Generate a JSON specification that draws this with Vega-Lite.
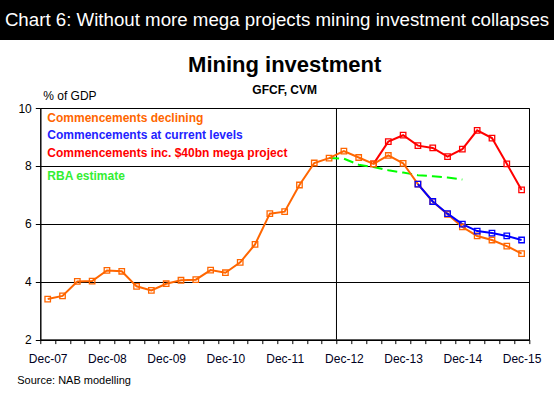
{
  "$schema": "https://vega.github.io/schema/vega-lite/v6.json",
  "padding": 0,
  "spacing": 13,
  "background": "white",
  "config": {"font": "Liberation Sans"},
  "datasets": {
    "scen": [
      {"q": "Jun-13", "series": "Commencements inc. $40bn mega project", "v": 8.07},
      {"q": "Sep-13", "series": "Commencements inc. $40bn mega project", "v": 8.84},
      {"q": "Dec-13", "series": "Commencements inc. $40bn mega project", "v": 9.06},
      {"q": "Mar-14", "series": "Commencements inc. $40bn mega project", "v": 8.70},
      {"q": "Jun-14", "series": "Commencements inc. $40bn mega project", "v": 8.62},
      {"q": "Sep-14", "series": "Commencements inc. $40bn mega project", "v": 8.32},
      {"q": "Dec-14", "series": "Commencements inc. $40bn mega project", "v": 8.58},
      {"q": "Mar-15", "series": "Commencements inc. $40bn mega project", "v": 9.23},
      {"q": "Jun-15", "series": "Commencements inc. $40bn mega project", "v": 8.96},
      {"q": "Sep-15", "series": "Commencements inc. $40bn mega project", "v": 8.07},
      {"q": "Dec-15", "series": "Commencements inc. $40bn mega project", "v": 7.17},
      {"q": "Dec-07", "series": "Commencements declining", "v": 3.40},
      {"q": "Mar-08", "series": "Commencements declining", "v": 3.51},
      {"q": "Jun-08", "series": "Commencements declining", "v": 4.01},
      {"q": "Sep-08", "series": "Commencements declining", "v": 4.02},
      {"q": "Dec-08", "series": "Commencements declining", "v": 4.39},
      {"q": "Mar-09", "series": "Commencements declining", "v": 4.36},
      {"q": "Jun-09", "series": "Commencements declining", "v": 3.84},
      {"q": "Sep-09", "series": "Commencements declining", "v": 3.70},
      {"q": "Dec-09", "series": "Commencements declining", "v": 3.93},
      {"q": "Mar-10", "series": "Commencements declining", "v": 4.05},
      {"q": "Jun-10", "series": "Commencements declining", "v": 4.07},
      {"q": "Sep-10", "series": "Commencements declining", "v": 4.40},
      {"q": "Dec-10", "series": "Commencements declining", "v": 4.31},
      {"q": "Mar-11", "series": "Commencements declining", "v": 4.67},
      {"q": "Jun-11", "series": "Commencements declining", "v": 5.29},
      {"q": "Sep-11", "series": "Commencements declining", "v": 6.35},
      {"q": "Dec-11", "series": "Commencements declining", "v": 6.42},
      {"q": "Mar-12", "series": "Commencements declining", "v": 7.34},
      {"q": "Jun-12", "series": "Commencements declining", "v": 8.10},
      {"q": "Sep-12", "series": "Commencements declining", "v": 8.27},
      {"q": "Dec-12", "series": "Commencements declining", "v": 8.51},
      {"q": "Mar-13", "series": "Commencements declining", "v": 8.29},
      {"q": "Jun-13", "series": "Commencements declining", "v": 8.07},
      {"q": "Sep-13", "series": "Commencements declining", "v": 8.36},
      {"q": "Dec-13", "series": "Commencements declining", "v": 8.09},
      {"q": "Mar-14", "series": "Commencements declining", "v": 7.37},
      {"q": "Jun-14", "series": "Commencements declining", "v": 6.77},
      {"q": "Sep-14", "series": "Commencements declining", "v": 6.33},
      {"q": "Dec-14", "series": "Commencements declining", "v": 5.89},
      {"q": "Mar-15", "series": "Commencements declining", "v": 5.58},
      {"q": "Jun-15", "series": "Commencements declining", "v": 5.44},
      {"q": "Sep-15", "series": "Commencements declining", "v": 5.23},
      {"q": "Dec-15", "series": "Commencements declining", "v": 4.97},
      {"q": "Mar-14", "series": "Commencements at current levels", "v": 7.37},
      {"q": "Jun-14", "series": "Commencements at current levels", "v": 6.77},
      {"q": "Sep-14", "series": "Commencements at current levels", "v": 6.35},
      {"q": "Dec-14", "series": "Commencements at current levels", "v": 5.99},
      {"q": "Mar-15", "series": "Commencements at current levels", "v": 5.75},
      {"q": "Jun-15", "series": "Commencements at current levels", "v": 5.68},
      {"q": "Sep-15", "series": "Commencements at current levels", "v": 5.58},
      {"q": "Dec-15", "series": "Commencements at current levels", "v": 5.44}
    ],
    "rba": [
      {"q": "Sep-12", "series": "RBA estimate", "v": 8.27},
      {"q": "Dec-12", "series": "RBA estimate", "v": 8.25},
      {"q": "Mar-13", "series": "RBA estimate", "v": 8.04},
      {"q": "Jun-13", "series": "RBA estimate", "v": 7.96},
      {"q": "Sep-13", "series": "RBA estimate", "v": 7.85},
      {"q": "Dec-13", "series": "RBA estimate", "v": 7.77},
      {"q": "Mar-14", "series": "RBA estimate", "v": 7.68},
      {"q": "Jun-14", "series": "RBA estimate", "v": 7.64},
      {"q": "Sep-14", "series": "RBA estimate", "v": 7.60},
      {"q": "Dec-14", "series": "RBA estimate", "v": 7.53}
    ],
    "split": [{"q": "Dec-12"}],
    "banner": [{"t": "Chart 6: Without more mega projects mining investment collapses"}],
    "none": []
  },
  "vconcat": [
    {
      "width": 554,
      "height": 40,
      "view": {"fill": "black", "stroke": null},
      "data": {"name": "banner"},
      "mark": {"type": "text", "color": "white", "fontSize": 18.7, "font": "Liberation Sans"},
      "encoding": {"text": {"field": "t", "type": "nominal"}}
    },
    {
      "spacing": 14.3,
      "hconcat": [
        {
          "width": 1,
          "height": 1,
          "view": {"stroke": null},
          "data": {"name": "none"},
          "mark": "point"
        },
        {
          "width": 488.7,
          "height": 231.6,
          "view": {"stroke": "black", "strokeWidth": 1},
          "title": {
            "text": "Mining investment",
            "subtitle": "GFCF, CVM",
            "fontSize": 22,
            "fontWeight": "bold",
            "color": "black",
            "subtitleFontSize": 12,
            "subtitleFontWeight": "bold",
            "subtitleColor": "black",
            "subtitlePadding": 7.5,
            "anchor": "middle",
            "offset": -7.8
          },
          "encoding": {
            "x": {
              "field": "q",
              "type": "ordinal",
              "sort": null,
              "scale": {
                "type": "band",
                "paddingInner": 0,
                "paddingOuter": 0,
                "domain": ["Dec-07","Mar-08","Jun-08","Sep-08","Dec-08","Mar-09","Jun-09","Sep-09","Dec-09","Mar-10","Jun-10","Sep-10","Dec-10","Mar-11","Jun-11","Sep-11","Dec-11","Mar-12","Jun-12","Sep-12","Dec-12","Mar-13","Jun-13","Sep-13","Dec-13","Mar-14","Jun-14","Sep-14","Dec-14","Mar-15","Jun-15","Sep-15","Dec-15"]
              },
              "axis": {
                "title": "Source: NAB modelling",
                "titleFontSize": 11,
                "titleFontWeight": "normal",
                "titleColor": "black",
                "titleAlign": "left",
                "titleAnchor": "start",
                "titleBaseline": "alphabetic",
                "titleX": -23.6,
                "titleY": 43.4,
                "labelExpr": "indexof(datum.label, 'Dec') == 0 ? datum.label : ''",
                "labelAngle": 0,
                "labelOverlap": false,
                "labelFontSize": 12,
                "labelColor": "#000022",
                "labelPadding": 10,
                "tickBand": "extent",
                "tickSize": 4,
                "tickColor": "black",
                "domainColor": "black",
                "grid": false
              }
            },
            "y": {
              "field": "v",
              "type": "quantitative",
              "scale": {"domain": [2, 10], "nice": false, "zero": false},
              "axis": {
                "values": [2, 4, 6, 8, 10],
                "title": "% of GDP",
                "titleFontSize": 12,
                "titleFontWeight": "normal",
                "titleColor": "black",
                "titleAngle": 0,
                "titleAlign": "left",
                "titleBaseline": "alphabetic",
                "titleX": 2.4,
                "titleY": -9,
                "labelFontSize": 12,
                "labelColor": "black",
                "labelPadding": 4,
                "tickSize": 5,
                "tickColor": "black",
                "domainColor": "black",
                "grid": true,
                "gridColor": "black",
                "gridOpacity": 1,
                "gridWidth": 1
              }
            }
          },
          "layer": [
            {
              "data": {"name": "split"},
              "mark": {"type": "rule", "color": "black", "strokeWidth": 1},
              "encoding": {
                "x": {"field": "q", "type": "ordinal", "bandPosition": 0},
                "y": null
              }
            },
            {
              "data": {"name": "rba"},
              "mark": {"type": "line", "color": "#00FF00", "strokeWidth": 2},
              "encoding": {
                "strokeDash": {
                  "field": "series",
                  "type": "nominal",
                  "scale": {"domain": ["RBA estimate"], "range": [[10, 5]]},
                  "legend": {
                    "orient": "none",
                    "legendX": 35.3,
                    "legendY": 170,
                    "title": null,
                    "padding": 0,
                    "symbolSize": 0,
                    "symbolStrokeWidth": 0,
                    "symbolOpacity": 0,
                    "labelOffset": 0,
                    "labelFontSize": 12,
                    "labelFontWeight": "bold",
                    "labelColor": "#33EE33",
                    "labelLimit": 400
                  }
                }
              }
            },
            {
              "data": {"name": "scen"},
              "mark": {
                "type": "line",
                "strokeWidth": 2,
                "point": {"shape": "square", "filled": false, "size": 30, "strokeWidth": 1.3}
              },
              "encoding": {
                "color": {
                  "field": "series",
                  "type": "nominal",
                  "scale": {
                    "domain": ["Commencements declining", "Commencements at current levels", "Commencements inc. $40bn mega project"],
                    "range": ["#FF6600", "#0000FF", "#FF0000"]
                  },
                  "legend": {
                    "orient": "none",
                    "legendX": 35.3,
                    "legendY": 111.7,
                    "title": null,
                    "padding": 0,
                    "symbolSize": 0,
                    "symbolStrokeWidth": 0,
                    "symbolOpacity": 0,
                    "labelOffset": 0,
                    "labelFontSize": 12,
                    "labelFontWeight": "bold",
                    "rowPadding": 5.5,
                    "labelLimit": 400,
                    "labelColor": {"expr": "datum.label == 'Commencements declining' ? '#FF6600' : datum.label == 'Commencements at current levels' ? '#2222FF' : '#FF0000'"}
                  }
                }
              }
            }
          ]
        }
      ]
    }
  ]
}
